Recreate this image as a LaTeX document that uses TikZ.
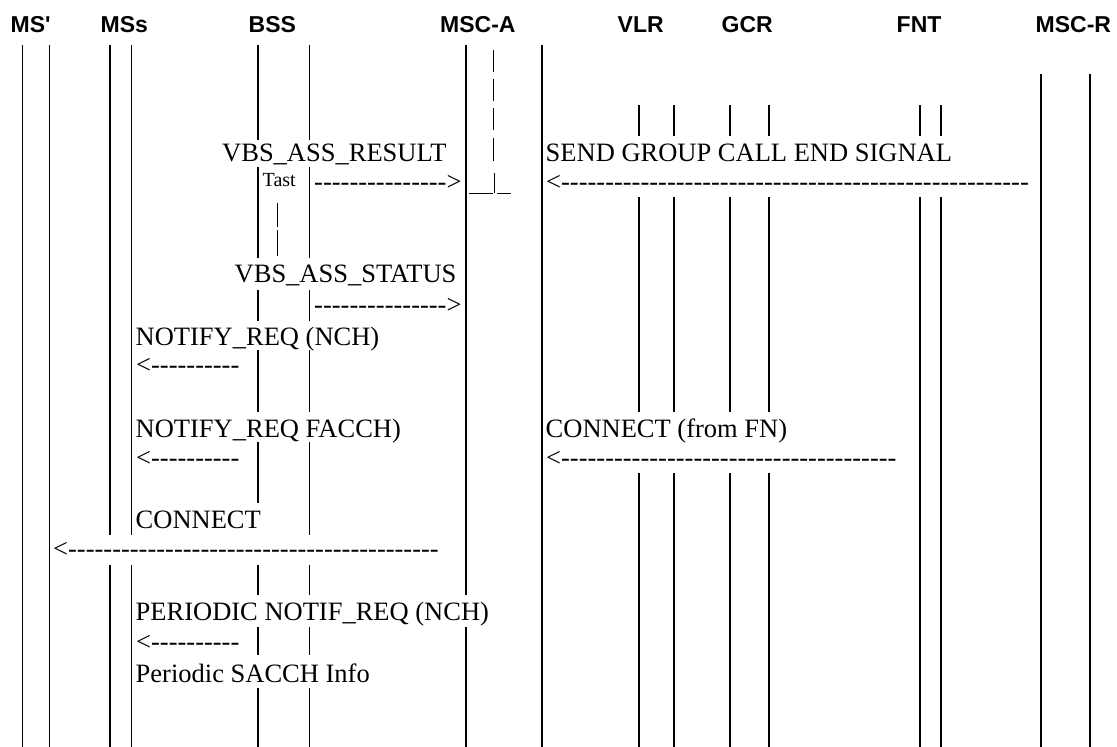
\documentclass[tikz,border=0pt]{standalone}
\usepackage{fontspec}
\setmainfont{Liberation Serif}[Ligatures=TeXOff]
\newfontfamily\hdrfont{Liberation Sans}[Ligatures=TeXOff]
\newcommand\hyrun[1]{\foreach \i in {1,...,#1}{-}}
\begin{document}
\begin{tikzpicture}[x=1pt,y=-1pt,
  life/.style={line width=1.8pt},
  tick/.style={line width=0.9pt},
  hdr/.style={anchor=base west,inner sep=0pt,font=\hdrfont\bfseries\fontsize{23}{27}\selectfont},
  msg/.style={anchor=base west,inner sep=0pt,font=\fontsize{26.5}{30}\selectfont},
  smallmsg/.style={anchor=base west,inner sep=0pt,font=\fontsize{20}{24}\selectfont}]
\useasboundingbox[fill=white] (0,0) rectangle (1117,747);

% headers
\node[hdr] (hMSp)  at (10.5,32) {MS'};
\node[hdr] (hMSs)  at (100.5,32) {MSs};
\node[hdr] (hBSS)  at (248.5,32) {BSS};
\node[hdr] (hMSCA) at (440,32) {MSC-A};
\node[hdr] (hVLR)  at (617.5,32) {VLR};
\node[hdr] (hGCR)  at (721.5,32) {GCR};
\node[hdr] (hFNT)  at (896.5,32) {FNT};
\node[hdr] (hMSCR) at (1035.5,32) {MSC-R};

% lifelines
\foreach \x in {22.5,49.5} \draw[life] (\x,45) -- (\x,747);
\foreach \x in {110,131.5} {\draw[life] (\x,45) -- (\x,535); \draw[life] (\x,565) -- (\x,747);}
\foreach \a/\b in {45/140,167/258,290/321,350/412,442/503,565/595,627/655,688/747}
  \draw[life] (258,\a) -- (258,\b);
\foreach \a/\b in {45/140,167/258,290/321,350/412,442/535,565/595,627/655,688/747}
  \draw[life] (309.5,\a) -- (309.5,\b);
\draw[life] (466,45) -- (466,595); \draw[life] (466,627) -- (466,747);
\draw[life] (541.7,45) -- (541.7,747);
\foreach \x in {639,674,730,769} {
  \draw[life] (\x,105) -- (\x,136);
  \draw[life] (\x,197) -- (\x,412);
  \draw[life] (\x,473) -- (\x,747);}
\foreach \x in {920,941} {
  \draw[life] (\x,105) -- (\x,136);
  \draw[life] (\x,197) -- (\x,747);}
\foreach \x in {1041,1090} \draw[life] (\x,74) -- (\x,747);

% ascii bars
\foreach \a/\b in {50/72,79/101,108/130,138/161} \draw[tick] (493,\a) -- (493,\b);
\draw[tick] (494,173) -- (494,193);
\draw[tick] (469,193) -- (492.5,193);
\draw[tick] (496.5,193) -- (511,193);
\foreach \a/\b in {203/227,230/256} \draw[tick] (277,\a) -- (277,\b);

% messages
\node[msg] (m1)  at (222,161) {VBS\_ASS\_RESULT};
\node[msg] (m1b) at (545.5,161) {SEND GROUP CALL END SIGNAL};
\node[smallmsg] (tast) at (262.5,186) {Tast};
\node[msg] (a1)  at (314,190) {\hyrun{15}>};
\node[msg] (a1b) at (546,190) {<\hyrun{53}};
\node[msg] (m2)  at (234.5,282.5) {VBS\_ASS\_STATUS};
\node[msg] (a2)  at (314,313) {\hyrun{15}>};
\node[msg] (m3)  at (135.5,345) {NOTIFY\_REQ (NCH)};
\node[msg] (a3)  at (136,373) {<\hyrun{10}};
\node[msg] (m4)  at (135.5,437) {NOTIFY\_REQ FACCH)};
\node[msg] (m4b) at (545.5,437) {CONNECT (from FN)};
\node[msg] (a4)  at (136,466) {<\hyrun{10}};
\node[msg] (a4b) at (546,466) {<\hyrun{38}};
\node[msg] (m5)  at (135.5,528) {CONNECT};
\node[msg] (a5)  at (53,557.5) {<\hyrun{42}};
\node[msg] (m6)  at (135.5,620) {PERIODIC NOTIF\_REQ (NCH)};
\node[msg] (a6)  at (136,650) {<\hyrun{10}};
\node[msg] (m7)  at (135.5,682) {Periodic SACCH Info};
\end{tikzpicture}
\end{document}
